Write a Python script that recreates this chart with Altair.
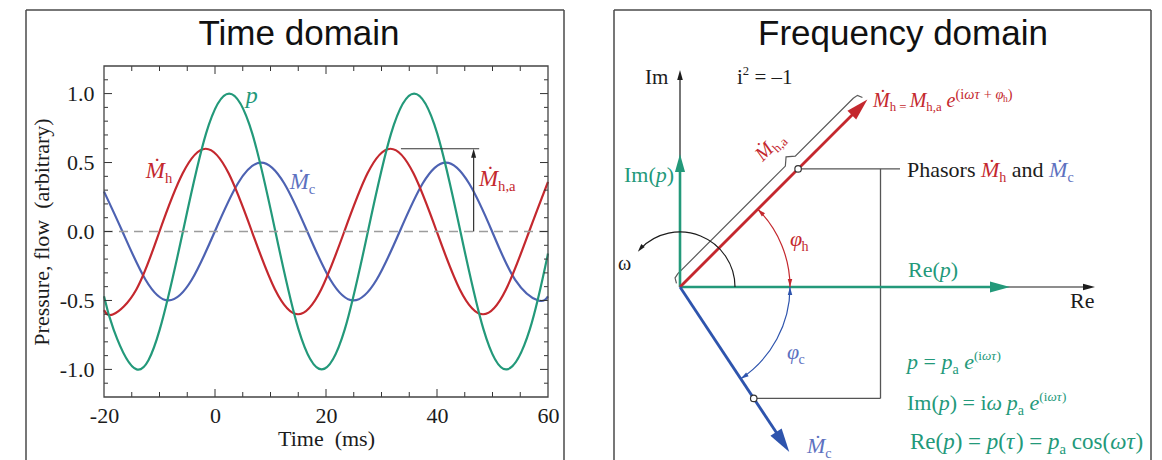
import math
import altair as alt
import pandas as pd

# ---------------------------------------------------------------- colours / fonts
GREEN = "#23997a"
RED = "#c4282e"
BLUE = "#4d62b2"
BLUE_ARROW = "#2e54ad"
BLUE_TXT = "#5d71c0"
INK = "#1c1c1c"
GRAY = "#555555"
SERIF = "Liberation Serif"
SANS = "Liberation Sans"

# ---------------------------------------------------------------- time-domain data
p_t = [-20.0, -18.28, -14.12, -9.95, -5.78, -1.62, 2.55, 6.72, 10.88, 15.05, 19.22,
       23.38, 27.55, 31.72, 35.88, 40.05, 44.22, 48.38, 52.55, 56.72, 60.0]
p_v = [-0.47, -0.71, -1.0, -0.71, 0.0, 0.71, 1.0, 0.71, 0.0, -0.71, -1.0,
       -0.71, 0.0, 0.71, 1.0, 0.71, 0.0, -0.71, -1.0, -0.71, -0.16]
mh_t = [-20.0, -18.33, -14.17, -10.0, -5.84, -1.68, 2.48, 6.65, 10.81, 14.97, 19.13,
        23.3, 27.46, 31.62, 35.78, 39.95, 44.11, 48.27, 52.43, 56.6, 60.0]
mh_v = [-0.57, -0.6, -0.42, 0.0, 0.42, 0.6, 0.42, 0.0, -0.42, -0.6, -0.42,
        0.0, 0.42, 0.6, 0.42, 0.0, -0.42, -0.6, -0.42, 0.0, 0.36]
mc_t = [-20.0, -16.68, -12.51, -8.35, -4.19, -0.03, 4.14, 8.3, 12.46, 16.63, 20.79,
        24.95, 29.11, 33.28, 37.44, 41.6, 45.76, 49.93, 54.09, 58.25, 60.0]
mc_v = [0.29, 0.0, -0.35, -0.5, -0.35, 0.0, 0.35, 0.5, 0.35, 0.0, -0.35,
        -0.5, -0.35, 0.0, 0.35, 0.5, 0.35, 0.0, -0.35, -0.5, -0.47]

x_tick_labels = [-20, 0, 20, 40, 60]
y_tick_labels = [-1.0, -0.5, 0.0, 0.5, 1.0]
x_minor = [-15, -10, -5, 5, 10, 15, 25, 30, 35, 45, 50, 55]
x_major = [0, 20, 40]
y_minor = [-1.1, -0.9, -0.8, -0.7, -0.6, -0.4, -0.3, -0.2, -0.1,
           0.1, 0.2, 0.3, 0.4, 0.6, 0.7, 0.8, 0.9, 1.1]
y_major = [-1.0, -0.5, 0.0, 0.5, 1.0]

# amplitude marker  M_h,a
amp_value = 0.6
amp_line_t = [33.5, 47.6]
amp_arrow_t = 46.6

# ---------------------------------------------------------------- phasor data (frequency domain)
ph_names = ["Re", "Im", "Re(p)", "Im(p)", "Mh", "Mc"]
ph_mag = [4.15, 2.17, 3.30, 1.33, 2.65, 1.98]
ph_ang = [0.0, 90.0, 0.0, 90.0, 45.0, -56.5]
ph_col = [INK, INK, GREEN, GREEN, RED, BLUE_ARROW]
ph_lw = [1.2, 1.2, 2.6, 2.6, 2.8, 2.8]
ph_head = [12, 10, 20, 18, 22, 24]

mh_mark = 1.67      # phasor marker distance along M_h
mc_mark = 1.336     # phasor marker distance along M_c
bracket_x = 2.005
bracket_end_x = 2.20
r_phi = 1.10
r_omega = 0.55
omega_end = 140.0

brace_s = [0.00, 0.03, 0.08, 1.60, 1.67, 1.74, 2.56, 2.61, 2.63]
brace_n = [0.05, 0.10, 0.11, 0.11, 0.17, 0.11, 0.11, 0.10, 0.05]

# ---------------------------------------------------------------- geometry
W1, H1 = 444, 331
XS = alt.Scale(domain=[-20, 60], nice=False, zero=False)
YS = alt.Scale(domain=[-1.2, 1.2], nice=False, zero=False)
PXX = W1 / 80.0
PXY = H1 / 2.4

W2, H2 = 537, 396
PX = 100.0
XR = alt.Scale(domain=[-0.66, -0.66 + W2 / PX], nice=False, zero=False)
YR = alt.Scale(domain=[2.21 - H2 / PX, 2.21], nice=False, zero=False)

HEAD_SHAPE = "M0,0L-0.28,1L0.28,1Z"

num_expr = "(datum.value < 0 ? '-' : '') + format(abs(datum.value), '{}')"
AXX = alt.Axis(values=x_tick_labels, labelExpr=num_expr.format("d"), ticks=False, domain=False,
               grid=False, labelFlush=False, labelFont=SERIF, labelFontSize=22, labelColor=INK,
               labelPadding=8, title="Time\u00a0 (ms)", titleFont=SERIF, titleFontSize=22,
               titleFontWeight="normal", titleColor=INK, titlePadding=2)
AXY = alt.Axis(values=y_tick_labels, labelExpr=num_expr.format(".1f"), ticks=False, domain=False,
               grid=False, labelFlush=False, labelFont=SERIF, labelFontSize=22, labelColor=INK,
               labelPadding=10, title="Pressure, flow\u00a0 (arbitrary)", titleFont=SERIF,
               titleFontSize=22, titleFontWeight="normal", titleColor=INK, titlePadding=6)


def LX(field):
    return alt.X(field, scale=XS, axis=AXX)


def LY(field):
    return alt.Y(field, scale=YS, axis=AXY)


# ---------------------------------------------------------------- rich text helper (Times metrics)
UP = {' ': 250, '(': 333, ')': 333, '=': 564, '+': 564, ',': 250, '.': 250, '–': 500,
      '-': 333, '1': 500, '2': 500, 'I': 333, 'R': 667, 'P': 556, 'M': 889, 'a': 444,
      'c': 444, 'd': 500, 'e': 444, 'h': 500, 'i': 278, 'm': 778, 'n': 500, 'o': 500,
      'p': 500, 'r': 333, 's': 389, 'ω': 686, 'τ': 439, 'φ': 521}
IT = {' ': 250, 'M': 833, 'Ṁ': 833, 'p': 500, 'e': 444, 'ω': 667, 'τ': 432, 'φ': 521, 'i': 278}

STY = {
    'up': lambda b: (b, False, 0.0),
    'it': lambda b: (b, True, 0.0),
    'sub': lambda b: (round(b * 0.64, 1), False, 0.22 * b),
    'sup': lambda b: (round(b * 0.6, 1), False, -0.42 * b),
    'supit': lambda b: (round(b * 0.6, 1), True, -0.42 * b),
    'supL': lambda b: (round(b * 0.72, 1), False, -0.40 * b),
    'supLit': lambda b: (round(b * 0.72, 1), True, -0.40 * b),
    'supsub': lambda b: (round(b * 0.48, 1), False, -0.26 * b),
}


def rich(x0, y0, base, color, segs, ppx, ppy, ang=0):
    a = math.radians(-ang)
    ux, uy = math.cos(a), math.sin(a)
    dvx, dvy = math.sin(a), -math.cos(a)
    rows = []
    cur = 0.0
    for seg in segs:
        text, kind = seg[0], seg[1]
        col = seg[2] if len(seg) > 2 else color
        size, italic, dd = STY[kind](base)
        table = IT if italic else UP
        lead = len(text) - len(text.lstrip(' '))
        body = text.strip(' ')
        along = cur + lead * table[' '] / 1000.0 * size
        if body:
            rows.append(dict(x=x0 + (along * ux + dd * dvx) / ppx,
                             y=y0 + (along * uy + dd * dvy) / ppy,
                             txt=body, fs=size, col=col, it=italic, ang=ang))
        cur += sum(table.get(ch, 500) for ch in text) / 1000.0 * size
    return rows


def text_layers(rows, xenc, yenc):
    df = pd.DataFrame(rows)
    out = []
    for it, style in [(True, "italic"), (False, "normal")]:
        sub = df[df["it"] == it].drop(columns=["it"])
        if len(sub) == 0:
            continue
        out.append(alt.Chart(sub).mark_text(font=SERIF, fontStyle=style, align="left",
                                            baseline="alphabetic").encode(
            x=xenc("x:Q"), y=yenc("y:Q"),
            text="txt:N",
            size=alt.Size("fs:Q", scale=None),
            color=alt.Color("col:N", scale=None),
            angle=alt.Angle("ang:Q", scale=None)))
    return out


def one():
    return pd.DataFrame({"k": [0]})


def vrule(x, y0, y1, color="#4a4a4a", w=1.5):
    return alt.Chart(one()).mark_rule(color=color, strokeWidth=w).encode(
        x=alt.value(x), y=alt.value(y0), y2=alt.value(y1))


def hrule(y, x0, x1, color="#4a4a4a", w=1.5):
    return alt.Chart(one()).mark_rule(color=color, strokeWidth=w).encode(
        y=alt.value(y), x=alt.value(x0), x2=alt.value(x1))


# ================================================================= LEFT PANEL
rows = []
for name, ts, vs, col in [("Mc", mc_t, mc_v, BLUE), ("Mh", mh_t, mh_v, RED), ("p", p_t, p_v, GREEN)]:
    for t, v in zip(ts, vs):
        rows.append(dict(name=name, t=t, v=v, col=col))
curves_df = pd.DataFrame(rows)

curves = alt.Chart(curves_df).mark_line(interpolate="natural", strokeWidth=2.2).encode(
    x=LX("t:Q"), y=LY("v:Q"),
    color=alt.Color("col:N", scale=None),
    detail="name:N",
)

zero_line = alt.Chart(pd.DataFrame({"v": [0.0]})).mark_rule(
    color="#9c9c9c", strokeWidth=1.6, strokeDash=[9, 6]).encode(y=LY("v:Q"))


def xticks(vals, y0, y1):
    return alt.Chart(pd.DataFrame({"t": vals})).mark_rule(color="#333333", strokeWidth=1).encode(
        x=LX("t:Q"), y=alt.value(y0), y2=alt.value(y1))


def yticks(vals, x0, x1):
    return alt.Chart(pd.DataFrame({"v": vals})).mark_rule(color="#333333", strokeWidth=1).encode(
        y=LY("v:Q"), x=alt.value(x0), x2=alt.value(x1))


tick_layers = [
    xticks(x_major, H1, H1 - 8), xticks(x_minor, H1, H1 - 5),
    xticks(x_major, 0, 8), xticks(x_minor, 0, 5),
    yticks(y_major, 0, 8), yticks(y_minor, 0, 4),
    yticks(y_major, W1, W1 - 8), yticks(y_minor, W1, W1 - 4),
]

plot_border = alt.Chart(one()).mark_rect(fill="white", fillOpacity=0, stroke="#444444",
                                         strokeWidth=1.3).encode(
    x=alt.value(0), x2=alt.value(W1), y=alt.value(0), y2=alt.value(H1))

amp_df = pd.DataFrame({
    "x": [amp_line_t[0], amp_arrow_t],
    "y": [amp_value, 0.0],
    "x2": [amp_line_t[1], amp_arrow_t],
    "y2": [amp_value, amp_value - 7 / PXY],
})
amp_rules = alt.Chart(amp_df).mark_rule(color="#333333", strokeWidth=1.2).encode(
    x=LX("x:Q"), y=LY("y:Q"), x2="x2:Q", y2="y2:Q")
amp_head = alt.Chart(pd.DataFrame({"x": [amp_arrow_t], "y": [amp_value]})).mark_point(
    shape=HEAD_SHAPE, filled=True, color="#222222", size=4 * 9 * 9, opacity=1).encode(
    x=LX("x:Q"), y=LY("y:Q"))

left_rows = []
left_rows += rich(-12.46, 0.39, 23, RED, [("Ṁ", "it"), ("h", "sub")], PXX, PXY)
left_rows += rich(13.45, 0.305, 23, BLUE_TXT, [("Ṁ", "it"), ("c", "sub")], PXX, PXY)
left_rows += rich(47.55, 0.33, 23, RED, [("Ṁ", "it"), ("h,a", "sub")], PXX, PXY)
left_rows += rich(5.55, 0.93, 24, GREEN, [("p", "it")], PXX, PXY)

left_title = alt.Chart(one()).mark_text(font=SANS, fontSize=35, align="center",
                                        baseline="middle", color="#111111").encode(
    x=alt.value(195), y=alt.value(-32), text=alt.value("Time domain"))

FX0, FX1, FY0, FY1 = -78, 460, -56, 396
left_frame = [vrule(FX0, FY0, FY1), vrule(FX1, FY0, FY1), hrule(FY0, FX0, FX1)]

left = alt.layer(
    curves, zero_line, *tick_layers, plot_border, amp_rules, amp_head,
    *text_layers(left_rows, LX, LY), left_title, *left_frame
).properties(width=W1, height=H1)

# ================================================================= RIGHT PANEL


def RX(field):
    return alt.X(field, scale=XR, axis=None)


def RY(field):
    return alt.Y(field, scale=YR, axis=None)


line_rows, head_rows = [], []
for mag, ang, col, lw, L in zip(ph_mag, ph_ang, ph_col, ph_lw, ph_head):
    a = math.radians(ang)
    ux, uy = math.cos(a), math.sin(a)
    back = 0.6 * L / PX
    line_rows.append(dict(x=0.0, y=0.0, x2=(mag - back) * ux, y2=(mag - back) * uy, col=col, w=lw))
    head_rows.append(dict(x=mag * ux, y=mag * uy, rot=(90 - ang) % 360, sz=4 * L * L, col=col))

mh_a = math.radians(ph_ang[4])
mc_a = math.radians(ph_ang[5])
mhx, mhy = mh_mark * math.cos(mh_a), mh_mark * math.sin(mh_a)
mcx, mcy = mc_mark * math.cos(mc_a), mc_mark * math.sin(mc_a)
bracket_rows = [
    dict(x=mhx, y=mhy, x2=bracket_end_x, y2=mhy, col=GRAY, w=1.3),
    dict(x=bracket_x, y=mhy, x2=bracket_x, y2=mcy, col=GRAY, w=1.3),
    dict(x=mcx, y=mcy, x2=bracket_x, y2=mcy, col=GRAY, w=1.3),
]


def seg_layer(rows_):
    return alt.Chart(pd.DataFrame(rows_)).mark_rule().encode(
        x=RX("x:Q"), y=RY("y:Q"), x2="x2:Q", y2="y2:Q",
        color=alt.Color("col:N", scale=None),
        strokeWidth=alt.StrokeWidth("w:Q", scale=None))


def arc_head(r, ang_pos, direction, col, L=8):
    a = math.radians(ang_pos)
    return dict(x=r * math.cos(a), y=r * math.sin(a), rot=(90 - direction) % 360, sz=4 * L * L, col=col)


phi_h = ph_ang[4]
phi_c = ph_ang[5]
head_rows += [
    arc_head(r_phi, 0.0, -90.0, RED), arc_head(r_phi, phi_h, phi_h + 90.0, RED),
    arc_head(r_phi, 0.0, 90.0, BLUE_ARROW), arc_head(r_phi, phi_c, phi_c - 90.0, BLUE_ARROW),
    arc_head(r_omega, omega_end, omega_end + 90.0, INK),
]

heads = alt.Chart(pd.DataFrame(head_rows)).mark_point(shape=HEAD_SHAPE, filled=True, opacity=1).encode(
    x=RX("x:Q"), y=RY("y:Q"),
    angle=alt.Angle("rot:Q", scale=None), size=alt.Size("sz:Q", scale=None),
    color=alt.Color("col:N", scale=None))


def arc_layer(r, a0, a1, col):
    t0 = 90.0 - a1
    t1 = 90.0 - a0
    while t0 < 0:
        t0 += 360.0
        t1 += 360.0
    return alt.Chart(pd.DataFrame({"cx": [0.0], "cy": [0.0]})).mark_arc(
        filled=False, color=col, strokeWidth=1.2).encode(
        x=RX("cx:Q"), y=RY("cy:Q"),
        theta=alt.value(math.radians(t0)), theta2=alt.value(math.radians(t1)),
        radius=alt.value(r * PX), radius2=alt.value(r * PX))


arcs = [
    arc_layer(r_phi, 0.0, phi_h, RED),
    arc_layer(r_phi, phi_c, 0.0, BLUE_ARROW),
    arc_layer(r_omega, 0.0, omega_end - 4, INK),
]

ca, sa = math.cos(mh_a), math.sin(mh_a)
brace_df = pd.DataFrame({
    "x": [s * ca - n * sa for s, n in zip(brace_s, brace_n)],
    "y": [s * sa + n * ca for s, n in zip(brace_s, brace_n)],
    "o": list(range(len(brace_s))),
})
brace = alt.Chart(brace_df).mark_line(color="#5a5a5a", strokeWidth=1.2).encode(
    x=RX("x:Q"), y=RY("y:Q"), order="o:Q")

markers = alt.Chart(pd.DataFrame({"x": [mhx, mcx], "y": [mhy, mcy]})).mark_point(
    shape="circle", filled=True, fill="white", stroke="#333333", strokeWidth=1.2, size=42,
    opacity=1).encode(x=RX("x:Q"), y=RY("y:Q"))

rr = []
rr += rich(1.93, 1.80, 20, RED, [("Ṁ", "it"), ("h", "sub"), (" = ", "sub"), ("M", "it"), ("h,a", "sub"),
                                 (" e", "it"), ("(i", "supL"), ("ωτ", "supLit"), (" + ", "supL"),
                                 ("φ", "supLit"), ("h", "supsub"), (")", "supL")], PX, PX)
rr += rich(2.27, 1.10, 22, INK, [("Phasors ", "up"), ("Ṁ", "it", RED), ("h", "sub", RED), (" and ", "up"),
                                 ("Ṁ", "it", BLUE_TXT), ("c", "sub", BLUE_TXT)], PX, PX)
rr += rich(2.27, -0.82, 22, GREEN, [("p", "it"), (" = ", "up"), ("p", "it"), ("a", "sub"), (" e", "it"),
                                    ("(i", "sup"), ("ωτ", "supit"), (")", "sup")], PX, PX)
rr += rich(2.27, -1.23, 22, GREEN, [("Im(", "up"), ("p", "it"), (") = i", "up"), ("ω", "it"), (" p", "it"),
                                    ("a", "sub"), (" e", "it"), ("(i", "sup"), ("ωτ", "supit"), (")", "sup")],
           PX, PX)
rr += rich(2.30, -1.62, 23, GREEN, [("Re(", "up"), ("p", "it"), (") = ", "up"), ("p", "it"), ("(", "up"),
                                    ("τ", "it"), (") = ", "up"), ("p", "it"), ("a", "sub"), (" cos(", "up"),
                                    ("ωτ", "it"), (")", "up")], PX, PX)
rr += rich(1.27, -1.66, 22, BLUE_TXT, [("Ṁ", "it"), ("c", "sub")], PX, PX)
rr += rich(1.10, 0.41, 22, RED, [("φ", "it"), ("h", "sub")], PX, PX)
rr += rich(1.07, -0.72, 22, BLUE_TXT, [("φ", "it"), ("c", "sub")], PX, PX)
rr += rich(-0.56, 1.05, 22, GREEN, [("Im(", "up"), ("p", "it"), (")", "up")], PX, PX)
rr += rich(2.28, 0.10, 22, GREEN, [("Re(", "up"), ("p", "it"), (")", "up")], PX, PX)
rr += rich(3.90, -0.21, 22, INK, [("Re", "up")], PX, PX)
rr += rich(-0.35, 2.03, 21, INK, [("Im", "up")], PX, PX)
rr += rich(0.57, 2.03, 21, INK, [("i", "up"), ("2", "sup"), (" = –1", "up")], PX, PX)
rr += rich(-0.62, 0.17, 20, INK, [("ω", "up")], PX, PX)
rr += rich(0.827, 1.251, 20, RED, [("Ṁ", "it"), ("h,a", "sub")], PX, PX, ang=315)

right_title = alt.Chart(one()).mark_text(font=SANS, fontSize=35, align="center",
                                         baseline="middle", color="#111111").encode(
    x=alt.value(289), y=alt.value(-32), text=alt.value("Frequency domain"))

right_frame = [vrule(0, -56, H2), vrule(W2, -56, H2), hrule(-56, 0, W2)]

right = alt.layer(
    *right_frame, seg_layer(bracket_rows), seg_layer(line_rows[:2]), brace,
    seg_layer(line_rows[2:]), *arcs, heads, markers,
    *text_layers(rr, RX, RY), right_title
).properties(width=W2, height=H2)

chart = alt.hconcat(left, right, spacing=46).properties(
    padding={"left": 24, "top": 8, "right": 0, "bottom": 0},
    background="white",
).configure_view(stroke="transparent")

chart.save("out.html", embed_options={"renderer": "svg", "actions": False})
